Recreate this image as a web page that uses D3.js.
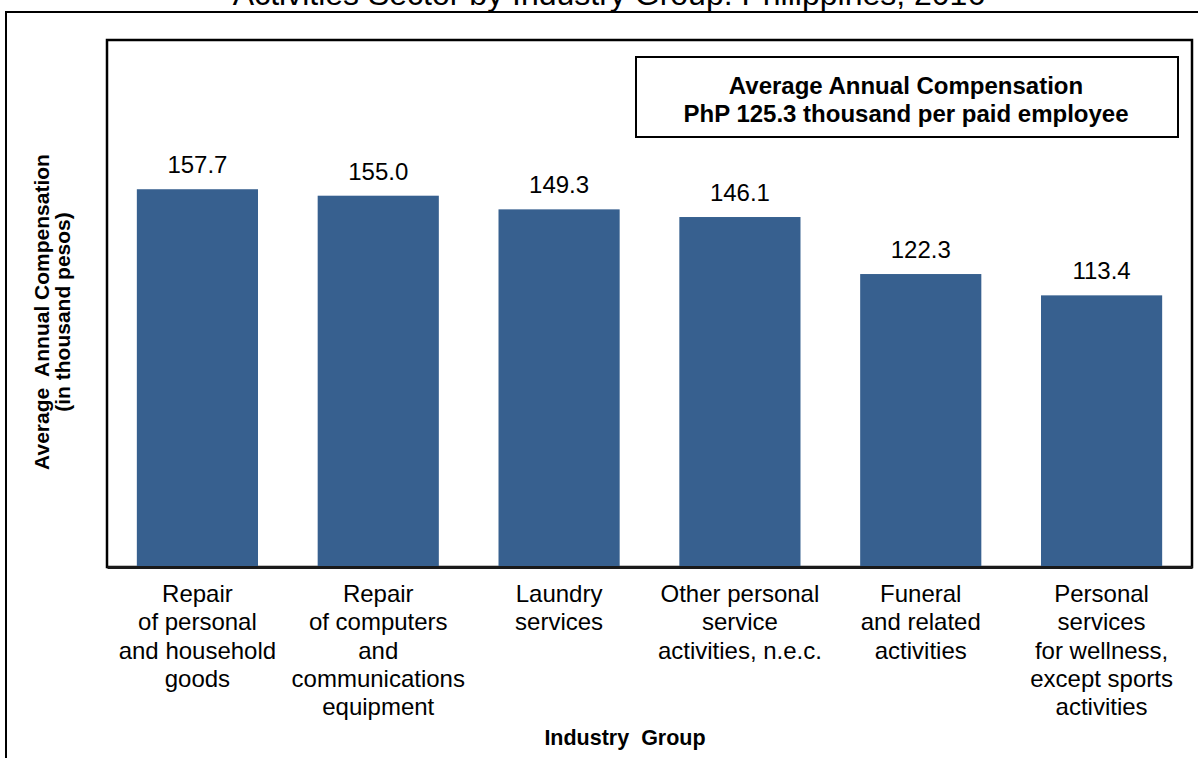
<!DOCTYPE html>
<html>
<head>
<meta charset="utf-8">
<script src="https://cdn.jsdelivr.net/npm/d3@7"></script>
<style>
  html, body { margin: 0; padding: 0; background: #fff; }
  svg { display: block; font-family: Arial, "Liberation Sans", sans-serif; }
  text { white-space: pre; }
</style>
</head>
<body>
<svg id="chart" width="1198" height="758"></svg>
<script>
// ---- data ----
const categories = [
  ["Repair", "of personal", "and household", "goods"],
  ["Repair", "of computers", "and", "communications", "equipment"],
  ["Laundry", "services"],
  ["Other personal", "service", "activities, n.e.c."],
  ["Funeral", "and related", "activities"],
  ["Personal", "services", "for wellness,", "except sports", "activities"]
];
const values = [157.7, 155.0, 149.3, 146.1, 122.3, 113.4];
const titleText = "Activities Sector by Industry Group: Philippines, 2016";
const yTitleLines = ["Average  Annual Compensation", "(in thousand pesos)"];
const xTitleText = "Industry  Group";
const noteLines = ["Average Annual Compensation", "PhP 125.3 thousand per paid employee"];
const yDomain = [0, 220];

// ---- layout ----
const W = 1198, H = 758;
const plot = { left: 107, top: 40, right: 1192, bottom: 567 };
const svg = d3.select("#chart");

// outer chart frame (extends past the right edge)
svg.append("rect")
  .attr("x", 6).attr("y", 12).attr("width", W + 20).attr("height", H + 20)
  .attr("fill", "none").attr("stroke", "#000").attr("stroke-width", 2);

// title (partially cut off at the top, as in the reference)
svg.append("text")
  .attr("x", 609).attr("y", 5)
  .attr("text-anchor", "middle")
  .attr("font-size", 32)
  .text(titleText);

const keys = categories.map((c, i) => "c" + i);
const x = d3.scaleBand().domain(keys).range([plot.left, plot.right]).paddingInner(0.33).paddingOuter(0.165);
const y = d3.scaleLinear().domain(yDomain).range([plot.bottom, plot.top]);

// plot area border
svg.append("rect")
  .attr("x", plot.left).attr("y", plot.top)
  .attr("width", plot.right - plot.left).attr("height", plot.bottom - plot.top)
  .attr("fill", "none").attr("stroke", "#000").attr("stroke-width", 2.5);

// bars
svg.selectAll("rect.bar").data(values).enter().append("rect")
  .attr("class", "bar")
  .attr("x", (d, i) => x(keys[i]))
  .attr("width", x.bandwidth())
  .attr("y", d => y(d))
  .attr("height", d => y(0) - y(d))
  .attr("fill", "#37608f");

// x axis line
const xAxis = d3.axisBottom(x).tickSize(0).tickFormat(() => "");
const gx = svg.append("g").attr("transform", `translate(0,${plot.bottom})`).call(xAxis);
gx.select(".domain").attr("stroke", "#1a1a1a").attr("stroke-width", 3);

// value labels
svg.selectAll("text.val").data(values).enter().append("text")
  .attr("class", "val")
  .attr("x", (d, i) => x(keys[i]) + x.bandwidth() / 2)
  .attr("y", d => y(d) - 16)
  .attr("text-anchor", "middle")
  .attr("font-size", 24)
  .attr("fill", "#000")
  .text(d => d.toFixed(1));

// category labels
categories.forEach((lines, i) => {
  const t = svg.append("text")
    .attr("text-anchor", "middle")
    .attr("font-size", 24)
    .attr("fill", "#000");
  lines.forEach((ln, j) => {
    t.append("tspan")
      .attr("x", x(keys[i]) + x.bandwidth() / 2)
      .attr("y", 602 + j * 28.3)
      .text(ln);
  });
});

// x axis title
svg.append("text")
  .attr("x", 625).attr("y", 745)
  .attr("text-anchor", "middle")
  .attr("font-size", 21.5).attr("font-weight", "bold")
  .text(xTitleText);

// y axis title
const yt = svg.append("text")
  .attr("transform", "translate(49,312) rotate(-90)")
  .attr("text-anchor", "middle")
  .attr("font-size", 21).attr("font-weight", "bold");
yTitleLines.forEach((ln, j) => {
  yt.append("tspan").attr("x", 0).attr("y", j * 21).text(ln);
});

// annotation box
svg.append("rect")
  .attr("x", 636).attr("y", 57).attr("width", 542).attr("height", 80)
  .attr("fill", "#fff").attr("stroke", "#000").attr("stroke-width", 2);
noteLines.forEach((ln, j) => {
  svg.append("text")
    .attr("x", 906).attr("y", 94 + j * 28)
    .attr("text-anchor", "middle")
    .attr("font-size", 24).attr("font-weight", "bold")
    .text(ln);
});
</script>
</body>
</html>
